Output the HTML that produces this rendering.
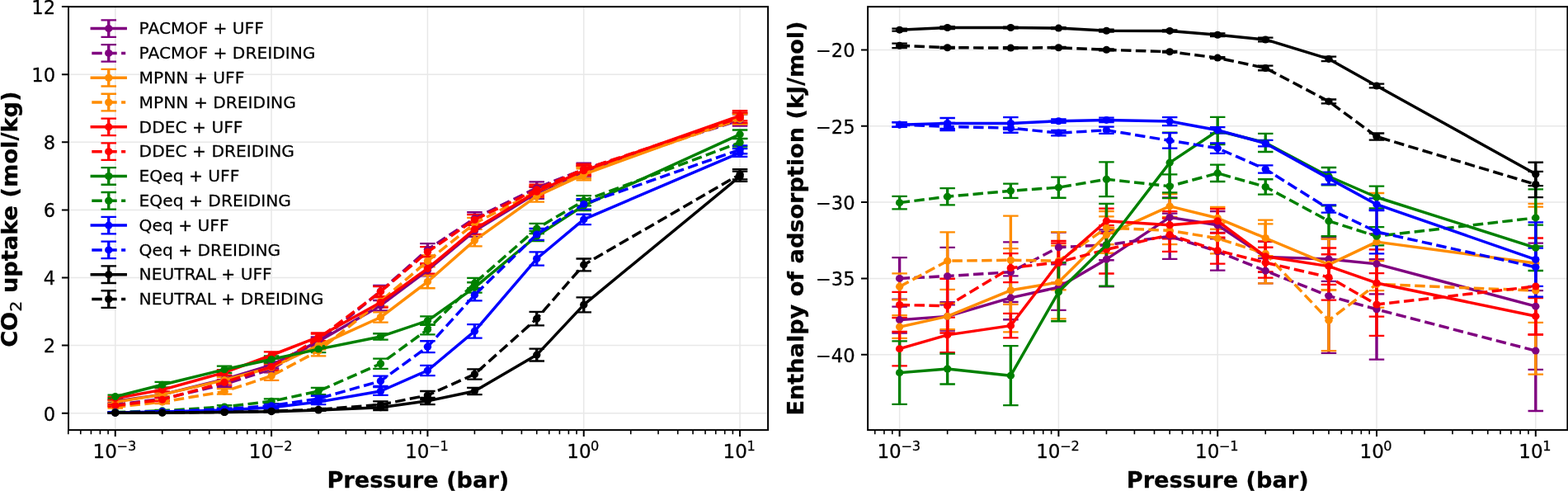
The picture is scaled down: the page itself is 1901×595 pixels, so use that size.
<!DOCTYPE html>
<html lang="en"><head><meta charset="utf-8"><title>CO2 uptake and enthalpy of adsorption</title>
<style>html,body{margin:0;padding:0;background:#fff;overflow:hidden}svg{display:block}text{font-family:"DejaVu Sans", "Liberation Sans", sans-serif;fill:#000;stroke:#000;stroke-width:0.25px;stroke-linejoin:round}</style></head><body>
<svg width="1901" height="595" viewBox="0 0 1901 595">
<rect width="1901" height="595" fill="#fff"/>
<path d="M139.75 8.15V521.1M329.08 8.15V521.1M518.41 8.15V521.1M707.74 8.15V521.1M897.07 8.15V521.1M83 500.7H931.1M83 418.6H931.1M83 336.5H931.1M83 254.4H931.1M83 172.3H931.1M83 90.2H931.1M83 8.1H931.1" stroke="#e8e8e8" stroke-width="1.5" fill="none"/>
<clipPath id="cl"><rect x="83" y="8.15" width="848.1" height="512.95"/></clipPath>
<g clip-path="url(#cl)" fill="none">
<path d="M139.75 484.69V487.97M196.74 476.07V480.18M272.09 456.37V462.93M329.08 438.3V446.51M386.07 408.75V418.6M461.42 364V376.32M518.41 320.49V334.45M575.4 272.87V286.83M650.75 226.9V240.85M707.74 201.45V215.4M897.07 136.59V150.54" stroke="#800080" stroke-width="3.4"/>
<path d="M130.5 484.69h18.5M130.5 487.97h18.5M187.49 476.07h18.5M187.49 480.18h18.5M262.84 456.37h18.5M262.84 462.93h18.5M319.83 438.3h18.5M319.83 446.51h18.5M376.82 408.75h18.5M376.82 418.6h18.5M452.17 364h18.5M452.17 376.32h18.5M509.16 320.49h18.5M509.16 334.45h18.5M566.15 272.87h18.5M566.15 286.83h18.5M641.5 226.9h18.5M641.5 240.85h18.5M698.49 201.45h18.5M698.49 215.4h18.5M887.82 136.59h18.5M887.82 150.54h18.5" stroke="#800080" stroke-width="2.3"/>
<path d="M139.75 489.21V491.67M196.74 481.41V485.51M272.09 462.52V469.09M329.08 443.23V451.44M386.07 408.75V420.24M461.42 345.94V359.9M518.41 295.04V309.82M575.4 257.27V272.05M650.75 220.33V235.11M707.74 197.75V212.53M897.07 138.64V152.6" stroke="#800080" stroke-width="3.4"/>
<path d="M130.5 489.21h18.5M130.5 491.67h18.5M187.49 481.41h18.5M187.49 485.51h18.5M262.84 462.52h18.5M262.84 469.09h18.5M319.83 443.23h18.5M319.83 451.44h18.5M376.82 408.75h18.5M376.82 420.24h18.5M452.17 345.94h18.5M452.17 359.9h18.5M509.16 295.04h18.5M509.16 309.82h18.5M566.15 257.27h18.5M566.15 272.05h18.5M641.5 220.33h18.5M641.5 235.11h18.5M698.49 197.75h18.5M698.49 212.53h18.5M887.82 138.64h18.5M887.82 152.6h18.5" stroke="#800080" stroke-width="2.3"/>
<path d="M139.75 485.51V488.8M196.74 476.07V480.18M272.09 457.19V463.75M329.08 441.18V449.39M386.07 413.67V423.53M461.42 378.37V390.69M518.41 333.63V349.23M575.4 284.37V298.32M650.75 230.59V244.55M707.74 204.32V218.28M897.07 136.59V148.9" stroke="#ff8c00" stroke-width="3.4"/>
<path d="M130.5 485.51h18.5M130.5 488.8h18.5M187.49 476.07h18.5M187.49 480.18h18.5M262.84 457.19h18.5M262.84 463.75h18.5M319.83 441.18h18.5M319.83 449.39h18.5M376.82 413.67h18.5M376.82 423.53h18.5M452.17 378.37h18.5M452.17 390.69h18.5M509.16 333.63h18.5M509.16 349.23h18.5M566.15 284.37h18.5M566.15 298.32h18.5M641.5 230.59h18.5M641.5 244.55h18.5M698.49 204.32h18.5M698.49 218.28h18.5M887.82 136.59h18.5M887.82 148.9h18.5" stroke="#ff8c00" stroke-width="2.3"/>
<path d="M139.75 492.08V494.54M196.74 485.1V489.21M272.09 471.14V477.71M329.08 450.21V460.88M386.07 419.01V431.33M461.42 359.08V371.39M518.41 309.41V323.36M575.4 263.84V277.8M650.75 224.84V238.8M707.74 202.27V216.22M897.07 138.23V150.54" stroke="#ff8c00" stroke-width="3.4"/>
<path d="M130.5 492.08h18.5M130.5 494.54h18.5M187.49 485.1h18.5M187.49 489.21h18.5M262.84 471.14h18.5M262.84 477.71h18.5M319.83 450.21h18.5M319.83 460.88h18.5M376.82 419.01h18.5M376.82 431.33h18.5M452.17 359.08h18.5M452.17 371.39h18.5M509.16 309.41h18.5M509.16 323.36h18.5M566.15 263.84h18.5M566.15 277.8h18.5M641.5 224.84h18.5M641.5 238.8h18.5M698.49 202.27h18.5M698.49 216.22h18.5M887.82 138.23h18.5M887.82 150.54h18.5" stroke="#ff8c00" stroke-width="2.3"/>
<path d="M139.75 481V484.28M196.74 470.32V474.43M272.09 448.16V454.72M329.08 426.4V434.61M386.07 403.41V413.26M461.42 360.31V372.62M518.41 319.26V331.57M575.4 271.64V283.96M650.75 226.08V238.39M707.74 200.62V212.94M897.07 134.12V146.44" stroke="#ff0000" stroke-width="3.4"/>
<path d="M130.5 481h18.5M130.5 484.28h18.5M187.49 470.32h18.5M187.49 474.43h18.5M262.84 448.16h18.5M262.84 454.72h18.5M319.83 426.4h18.5M319.83 434.61h18.5M376.82 403.41h18.5M376.82 413.26h18.5M452.17 360.31h18.5M452.17 372.62h18.5M509.16 319.26h18.5M509.16 331.57h18.5M566.15 271.64h18.5M566.15 283.96h18.5M641.5 226.08h18.5M641.5 238.39h18.5M698.49 200.62h18.5M698.49 212.94h18.5M887.82 134.12h18.5M887.82 146.44h18.5" stroke="#ff0000" stroke-width="2.3"/>
<path d="M139.75 490.44V492.9M196.74 482.23V486.33M272.09 460.06V466.63M329.08 440.36V448.57M386.07 404.64V416.14M461.42 347.17V359.49M518.41 299.14V311.46M575.4 260.15V272.46M650.75 223.61V235.93M707.74 198.98V211.3M897.07 136.59V148.9" stroke="#ff0000" stroke-width="3.4"/>
<path d="M130.5 490.44h18.5M130.5 492.9h18.5M187.49 482.23h18.5M187.49 486.33h18.5M262.84 460.06h18.5M262.84 466.63h18.5M319.83 440.36h18.5M319.83 448.57h18.5M376.82 404.64h18.5M376.82 416.14h18.5M452.17 347.17h18.5M452.17 359.49h18.5M509.16 299.14h18.5M509.16 311.46h18.5M566.15 260.15h18.5M566.15 272.46h18.5M641.5 223.61h18.5M641.5 235.93h18.5M698.49 198.98h18.5M698.49 211.3h18.5M887.82 136.59h18.5M887.82 148.9h18.5" stroke="#ff0000" stroke-width="2.3"/>
<path d="M139.75 478.53V482.64M196.74 462.93V469.5M272.09 443.64V451.85M329.08 431.33V439.54M386.07 419.01V427.22M461.42 404.23V411.62M518.41 383.3V393.97M575.4 342.25V354.56M650.75 279.85V292.17M707.74 242.91V255.22M897.07 157.52V168.2" stroke="#008000" stroke-width="3.4"/>
<path d="M130.5 478.53h18.5M130.5 482.64h18.5M187.49 462.93h18.5M187.49 469.5h18.5M262.84 443.64h18.5M262.84 451.85h18.5M319.83 431.33h18.5M319.83 439.54h18.5M376.82 419.01h18.5M376.82 427.22h18.5M452.17 404.23h18.5M452.17 411.62h18.5M509.16 383.3h18.5M509.16 393.97h18.5M566.15 342.25h18.5M566.15 354.56h18.5M641.5 279.85h18.5M641.5 292.17h18.5M698.49 242.91h18.5M698.49 255.22h18.5M887.82 157.52h18.5M887.82 168.2h18.5" stroke="#008000" stroke-width="2.3"/>
<path d="M139.75 499.06V499.88M196.74 497.01V498.65M272.09 491.26V494.54M329.08 483.46V489.21M386.07 469.91V478.12M461.42 434.61V446.92M518.41 393.15V405.46M575.4 336.91V349.23M650.75 270.82V283.13M707.74 237.16V249.47M897.07 167.78V177.64" stroke="#008000" stroke-width="3.4"/>
<path d="M130.5 499.06h18.5M130.5 499.88h18.5M187.49 497.01h18.5M187.49 498.65h18.5M262.84 491.26h18.5M262.84 494.54h18.5M319.83 483.46h18.5M319.83 489.21h18.5M376.82 469.91h18.5M376.82 478.12h18.5M452.17 434.61h18.5M452.17 446.92h18.5M509.16 393.15h18.5M509.16 405.46h18.5M566.15 336.91h18.5M566.15 349.23h18.5M641.5 270.82h18.5M641.5 283.13h18.5M698.49 237.16h18.5M698.49 249.47h18.5M887.82 167.78h18.5M887.82 177.64h18.5" stroke="#008000" stroke-width="2.3"/>
<path d="M139.75 499.47V500.29M196.74 498.65V499.47M272.09 496.18V497.83M329.08 492.08V495.36M386.07 484.28V490.03M461.42 469.09V478.94M518.41 442.82V455.13M575.4 393.15V409.57M650.75 305.3V321.72M707.74 259.74V272.05M897.07 180.1V189.95" stroke="#0000ff" stroke-width="3.4"/>
<path d="M130.5 499.47h18.5M130.5 500.29h18.5M187.49 498.65h18.5M187.49 499.47h18.5M262.84 496.18h18.5M262.84 497.83h18.5M319.83 492.08h18.5M319.83 495.36h18.5M376.82 484.28h18.5M376.82 490.03h18.5M452.17 469.09h18.5M452.17 478.94h18.5M509.16 442.82h18.5M509.16 455.13h18.5M566.15 393.15h18.5M566.15 409.57h18.5M641.5 305.3h18.5M641.5 321.72h18.5M698.49 259.74h18.5M698.49 272.05h18.5M887.82 180.1h18.5M887.82 189.95h18.5" stroke="#0000ff" stroke-width="2.3"/>
<path d="M139.75 499.47V500.29M196.74 498.24V499.06M272.09 494.54V497.01M329.08 489.62V493.72M386.07 479.76V486.33M461.42 455.55V467.86M518.41 413.26V427.22M575.4 350.46V364.41M650.75 276.98V290.93M707.74 241.26V253.58M897.07 176.4V186.26" stroke="#0000ff" stroke-width="3.4"/>
<path d="M130.5 499.47h18.5M130.5 500.29h18.5M187.49 498.24h18.5M187.49 499.06h18.5M262.84 494.54h18.5M262.84 497.01h18.5M319.83 489.62h18.5M319.83 493.72h18.5M376.82 479.76h18.5M376.82 486.33h18.5M452.17 455.55h18.5M452.17 467.86h18.5M509.16 413.26h18.5M509.16 427.22h18.5M566.15 350.46h18.5M566.15 364.41h18.5M641.5 276.98h18.5M641.5 290.93h18.5M698.49 241.26h18.5M698.49 253.58h18.5M887.82 176.4h18.5M887.82 186.26h18.5" stroke="#0000ff" stroke-width="2.3"/>
<path d="M139.75 500.08V500.49M196.74 500.08V500.49M272.09 499.06V499.88M329.08 498.24V499.06M386.07 496.18V497.83M461.42 490.44V497.01M518.41 481.82V490.03M575.4 469.91V478.12M650.75 422.7V437.48M707.74 360.31V378.37M897.07 207.6V219.92" stroke="#000000" stroke-width="3.4"/>
<path d="M130.5 500.08h18.5M130.5 500.49h18.5M187.49 500.08h18.5M187.49 500.49h18.5M262.84 499.06h18.5M262.84 499.88h18.5M319.83 498.24h18.5M319.83 499.06h18.5M376.82 496.18h18.5M376.82 497.83h18.5M452.17 490.44h18.5M452.17 497.01h18.5M509.16 481.82h18.5M509.16 490.03h18.5M566.15 469.91h18.5M566.15 478.12h18.5M641.5 422.7h18.5M641.5 437.48h18.5M698.49 360.31h18.5M698.49 378.37h18.5M887.82 207.6h18.5M887.82 219.92h18.5" stroke="#000000" stroke-width="2.3"/>
<path d="M139.75 500.08V500.49M196.74 499.67V500.08M272.09 499.06V499.88M329.08 497.42V499.06M386.07 494.95V497.42M461.42 486.33V494.54M518.41 474.02V483.87M575.4 447.33V459.65M650.75 377.96V394.38M707.74 313.51V328.29M897.07 205.14V217.46" stroke="#000000" stroke-width="3.4"/>
<path d="M130.5 500.08h18.5M130.5 500.49h18.5M187.49 499.67h18.5M187.49 500.08h18.5M262.84 499.06h18.5M262.84 499.88h18.5M319.83 497.42h18.5M319.83 499.06h18.5M376.82 494.95h18.5M376.82 497.42h18.5M452.17 486.33h18.5M452.17 494.54h18.5M509.16 474.02h18.5M509.16 483.87h18.5M566.15 447.33h18.5M566.15 459.65h18.5M641.5 377.96h18.5M641.5 394.38h18.5M698.49 313.51h18.5M698.49 328.29h18.5M887.82 205.14h18.5M887.82 217.46h18.5" stroke="#000000" stroke-width="2.3"/>
<polyline points="139.75,486.33 196.74,478.12 272.09,459.65 329.08,442.41 386.07,413.67 461.42,370.16 518.41,327.47 575.4,279.85 650.75,233.88 707.74,208.42 897.07,143.57" stroke="#800080" stroke-width="3.47" stroke-linejoin="round" stroke-linecap="square"/>
<g fill="#800080"><ellipse cx="139.75" cy="486.33" rx="4.7" ry="4.5"/><ellipse cx="196.74" cy="478.12" rx="4.7" ry="4.5"/><ellipse cx="272.09" cy="459.65" rx="4.7" ry="4.5"/><ellipse cx="329.08" cy="442.41" rx="4.7" ry="4.5"/><ellipse cx="386.07" cy="413.67" rx="4.7" ry="4.5"/><ellipse cx="461.42" cy="370.16" rx="4.7" ry="4.5"/><ellipse cx="518.41" cy="327.47" rx="4.7" ry="4.5"/><ellipse cx="575.4" cy="279.85" rx="4.7" ry="4.5"/><ellipse cx="650.75" cy="233.88" rx="4.7" ry="4.5"/><ellipse cx="707.74" cy="208.42" rx="4.7" ry="4.5"/><ellipse cx="897.07" cy="143.57" rx="4.7" ry="4.5"/></g>
<polyline points="139.75,490.44 196.74,483.46 272.09,465.81 329.08,447.33 386.07,414.5 461.42,352.92 518.41,302.43 575.4,264.66 650.75,227.72 707.74,205.14 897.07,145.62" stroke="#800080" stroke-width="3.47" stroke-linejoin="round" stroke-dasharray="12.5 5.4"/>
<g fill="#800080"><ellipse cx="139.75" cy="490.44" rx="4.7" ry="4.5"/><ellipse cx="196.74" cy="483.46" rx="4.7" ry="4.5"/><ellipse cx="272.09" cy="465.81" rx="4.7" ry="4.5"/><ellipse cx="329.08" cy="447.33" rx="4.7" ry="4.5"/><ellipse cx="386.07" cy="414.5" rx="4.7" ry="4.5"/><ellipse cx="461.42" cy="352.92" rx="4.7" ry="4.5"/><ellipse cx="518.41" cy="302.43" rx="4.7" ry="4.5"/><ellipse cx="575.4" cy="264.66" rx="4.7" ry="4.5"/><ellipse cx="650.75" cy="227.72" rx="4.7" ry="4.5"/><ellipse cx="707.74" cy="205.14" rx="4.7" ry="4.5"/><ellipse cx="897.07" cy="145.62" rx="4.7" ry="4.5"/></g>
<polyline points="139.75,487.15 196.74,478.12 272.09,460.47 329.08,445.28 386.07,418.6 461.42,384.53 518.41,341.43 575.4,291.35 650.75,237.57 707.74,211.3 897.07,142.74" stroke="#ff8c00" stroke-width="3.47" stroke-linejoin="round" stroke-linecap="square"/>
<g fill="#ff8c00"><ellipse cx="139.75" cy="487.15" rx="4.7" ry="4.5"/><ellipse cx="196.74" cy="478.12" rx="4.7" ry="4.5"/><ellipse cx="272.09" cy="460.47" rx="4.7" ry="4.5"/><ellipse cx="329.08" cy="445.28" rx="4.7" ry="4.5"/><ellipse cx="386.07" cy="418.6" rx="4.7" ry="4.5"/><ellipse cx="461.42" cy="384.53" rx="4.7" ry="4.5"/><ellipse cx="518.41" cy="341.43" rx="4.7" ry="4.5"/><ellipse cx="575.4" cy="291.35" rx="4.7" ry="4.5"/><ellipse cx="650.75" cy="237.57" rx="4.7" ry="4.5"/><ellipse cx="707.74" cy="211.3" rx="4.7" ry="4.5"/><ellipse cx="897.07" cy="142.74" rx="4.7" ry="4.5"/></g>
<polyline points="139.75,493.31 196.74,487.15 272.09,474.43 329.08,455.54 386.07,425.17 461.42,365.24 518.41,316.39 575.4,270.82 650.75,231.82 707.74,209.25 897.07,144.39" stroke="#ff8c00" stroke-width="3.47" stroke-linejoin="round" stroke-dasharray="12.5 5.4"/>
<g fill="#ff8c00"><ellipse cx="139.75" cy="493.31" rx="4.7" ry="4.5"/><ellipse cx="196.74" cy="487.15" rx="4.7" ry="4.5"/><ellipse cx="272.09" cy="474.43" rx="4.7" ry="4.5"/><ellipse cx="329.08" cy="455.54" rx="4.7" ry="4.5"/><ellipse cx="386.07" cy="425.17" rx="4.7" ry="4.5"/><ellipse cx="461.42" cy="365.24" rx="4.7" ry="4.5"/><ellipse cx="518.41" cy="316.39" rx="4.7" ry="4.5"/><ellipse cx="575.4" cy="270.82" rx="4.7" ry="4.5"/><ellipse cx="650.75" cy="231.82" rx="4.7" ry="4.5"/><ellipse cx="707.74" cy="209.25" rx="4.7" ry="4.5"/><ellipse cx="897.07" cy="144.39" rx="4.7" ry="4.5"/></g>
<polyline points="139.75,482.64 196.74,472.38 272.09,451.44 329.08,430.5 386.07,408.34 461.42,366.47 518.41,325.42 575.4,277.8 650.75,232.23 707.74,206.78 897.07,140.28" stroke="#ff0000" stroke-width="3.47" stroke-linejoin="round" stroke-linecap="square"/>
<g fill="#ff0000"><ellipse cx="139.75" cy="482.64" rx="4.7" ry="4.5"/><ellipse cx="196.74" cy="472.38" rx="4.7" ry="4.5"/><ellipse cx="272.09" cy="451.44" rx="4.7" ry="4.5"/><ellipse cx="329.08" cy="430.5" rx="4.7" ry="4.5"/><ellipse cx="386.07" cy="408.34" rx="4.7" ry="4.5"/><ellipse cx="461.42" cy="366.47" rx="4.7" ry="4.5"/><ellipse cx="518.41" cy="325.42" rx="4.7" ry="4.5"/><ellipse cx="575.4" cy="277.8" rx="4.7" ry="4.5"/><ellipse cx="650.75" cy="232.23" rx="4.7" ry="4.5"/><ellipse cx="707.74" cy="206.78" rx="4.7" ry="4.5"/><ellipse cx="897.07" cy="140.28" rx="4.7" ry="4.5"/></g>
<polyline points="139.75,491.67 196.74,484.28 272.09,463.34 329.08,444.46 386.07,410.39 461.42,353.33 518.41,305.3 575.4,266.3 650.75,229.77 707.74,205.14 897.07,142.74" stroke="#ff0000" stroke-width="3.47" stroke-linejoin="round" stroke-dasharray="12.5 5.4"/>
<g fill="#ff0000"><ellipse cx="139.75" cy="491.67" rx="4.7" ry="4.5"/><ellipse cx="196.74" cy="484.28" rx="4.7" ry="4.5"/><ellipse cx="272.09" cy="463.34" rx="4.7" ry="4.5"/><ellipse cx="329.08" cy="444.46" rx="4.7" ry="4.5"/><ellipse cx="386.07" cy="410.39" rx="4.7" ry="4.5"/><ellipse cx="461.42" cy="353.33" rx="4.7" ry="4.5"/><ellipse cx="518.41" cy="305.3" rx="4.7" ry="4.5"/><ellipse cx="575.4" cy="266.3" rx="4.7" ry="4.5"/><ellipse cx="650.75" cy="229.77" rx="4.7" ry="4.5"/><ellipse cx="707.74" cy="205.14" rx="4.7" ry="4.5"/><ellipse cx="897.07" cy="142.74" rx="4.7" ry="4.5"/></g>
<polyline points="139.75,480.59 196.74,466.22 272.09,447.75 329.08,435.43 386.07,423.12 461.42,407.93 518.41,388.63 575.4,348.4 650.75,286.01 707.74,249.06 897.07,162.86" stroke="#008000" stroke-width="3.47" stroke-linejoin="round" stroke-linecap="square"/>
<g fill="#008000"><ellipse cx="139.75" cy="480.59" rx="4.7" ry="4.5"/><ellipse cx="196.74" cy="466.22" rx="4.7" ry="4.5"/><ellipse cx="272.09" cy="447.75" rx="4.7" ry="4.5"/><ellipse cx="329.08" cy="435.43" rx="4.7" ry="4.5"/><ellipse cx="386.07" cy="423.12" rx="4.7" ry="4.5"/><ellipse cx="461.42" cy="407.93" rx="4.7" ry="4.5"/><ellipse cx="518.41" cy="388.63" rx="4.7" ry="4.5"/><ellipse cx="575.4" cy="348.4" rx="4.7" ry="4.5"/><ellipse cx="650.75" cy="286.01" rx="4.7" ry="4.5"/><ellipse cx="707.74" cy="249.06" rx="4.7" ry="4.5"/><ellipse cx="897.07" cy="162.86" rx="4.7" ry="4.5"/></g>
<polyline points="139.75,499.47 196.74,497.83 272.09,492.9 329.08,486.33 386.07,474.02 461.42,440.77 518.41,399.31 575.4,343.07 650.75,276.98 707.74,243.32 897.07,172.71" stroke="#008000" stroke-width="3.47" stroke-linejoin="round" stroke-dasharray="12.5 5.4"/>
<g fill="#008000"><ellipse cx="139.75" cy="499.47" rx="4.7" ry="4.5"/><ellipse cx="196.74" cy="497.83" rx="4.7" ry="4.5"/><ellipse cx="272.09" cy="492.9" rx="4.7" ry="4.5"/><ellipse cx="329.08" cy="486.33" rx="4.7" ry="4.5"/><ellipse cx="386.07" cy="474.02" rx="4.7" ry="4.5"/><ellipse cx="461.42" cy="440.77" rx="4.7" ry="4.5"/><ellipse cx="518.41" cy="399.31" rx="4.7" ry="4.5"/><ellipse cx="575.4" cy="343.07" rx="4.7" ry="4.5"/><ellipse cx="650.75" cy="276.98" rx="4.7" ry="4.5"/><ellipse cx="707.74" cy="243.32" rx="4.7" ry="4.5"/><ellipse cx="897.07" cy="172.71" rx="4.7" ry="4.5"/></g>
<polyline points="139.75,499.88 196.74,499.06 272.09,497.01 329.08,493.72 386.07,487.15 461.42,474.02 518.41,448.98 575.4,401.36 650.75,313.51 707.74,265.89 897.07,185.03" stroke="#0000ff" stroke-width="3.47" stroke-linejoin="round" stroke-linecap="square"/>
<g fill="#0000ff"><ellipse cx="139.75" cy="499.88" rx="4.7" ry="4.5"/><ellipse cx="196.74" cy="499.06" rx="4.7" ry="4.5"/><ellipse cx="272.09" cy="497.01" rx="4.7" ry="4.5"/><ellipse cx="329.08" cy="493.72" rx="4.7" ry="4.5"/><ellipse cx="386.07" cy="487.15" rx="4.7" ry="4.5"/><ellipse cx="461.42" cy="474.02" rx="4.7" ry="4.5"/><ellipse cx="518.41" cy="448.98" rx="4.7" ry="4.5"/><ellipse cx="575.4" cy="401.36" rx="4.7" ry="4.5"/><ellipse cx="650.75" cy="313.51" rx="4.7" ry="4.5"/><ellipse cx="707.74" cy="265.89" rx="4.7" ry="4.5"/><ellipse cx="897.07" cy="185.03" rx="4.7" ry="4.5"/></g>
<polyline points="139.75,499.88 196.74,498.65 272.09,495.77 329.08,491.67 386.07,483.05 461.42,461.7 518.41,420.24 575.4,357.44 650.75,283.96 707.74,247.42 897.07,181.33" stroke="#0000ff" stroke-width="3.47" stroke-linejoin="round" stroke-dasharray="12.5 5.4"/>
<g fill="#0000ff"><ellipse cx="139.75" cy="499.88" rx="4.7" ry="4.5"/><ellipse cx="196.74" cy="498.65" rx="4.7" ry="4.5"/><ellipse cx="272.09" cy="495.77" rx="4.7" ry="4.5"/><ellipse cx="329.08" cy="491.67" rx="4.7" ry="4.5"/><ellipse cx="386.07" cy="483.05" rx="4.7" ry="4.5"/><ellipse cx="461.42" cy="461.7" rx="4.7" ry="4.5"/><ellipse cx="518.41" cy="420.24" rx="4.7" ry="4.5"/><ellipse cx="575.4" cy="357.44" rx="4.7" ry="4.5"/><ellipse cx="650.75" cy="283.96" rx="4.7" ry="4.5"/><ellipse cx="707.74" cy="247.42" rx="4.7" ry="4.5"/><ellipse cx="897.07" cy="181.33" rx="4.7" ry="4.5"/></g>
<polyline points="139.75,500.29 196.74,500.29 272.09,499.47 329.08,498.65 386.07,497.01 461.42,493.72 518.41,485.92 575.4,474.02 650.75,430.09 707.74,369.34 897.07,213.76" stroke="#000000" stroke-width="3.47" stroke-linejoin="round" stroke-linecap="square"/>
<g fill="#000000"><ellipse cx="139.75" cy="500.29" rx="4.7" ry="4.5"/><ellipse cx="196.74" cy="500.29" rx="4.7" ry="4.5"/><ellipse cx="272.09" cy="499.47" rx="4.7" ry="4.5"/><ellipse cx="329.08" cy="498.65" rx="4.7" ry="4.5"/><ellipse cx="386.07" cy="497.01" rx="4.7" ry="4.5"/><ellipse cx="461.42" cy="493.72" rx="4.7" ry="4.5"/><ellipse cx="518.41" cy="485.92" rx="4.7" ry="4.5"/><ellipse cx="575.4" cy="474.02" rx="4.7" ry="4.5"/><ellipse cx="650.75" cy="430.09" rx="4.7" ry="4.5"/><ellipse cx="707.74" cy="369.34" rx="4.7" ry="4.5"/><ellipse cx="897.07" cy="213.76" rx="4.7" ry="4.5"/></g>
<polyline points="139.75,500.29 196.74,499.88 272.09,499.47 329.08,498.24 386.07,496.18 461.42,490.44 518.41,478.94 575.4,453.49 650.75,386.17 707.74,320.9 897.07,211.3" stroke="#000000" stroke-width="3.47" stroke-linejoin="round" stroke-dasharray="12.5 5.4"/>
<g fill="#000000"><ellipse cx="139.75" cy="500.29" rx="4.7" ry="4.5"/><ellipse cx="196.74" cy="499.88" rx="4.7" ry="4.5"/><ellipse cx="272.09" cy="499.47" rx="4.7" ry="4.5"/><ellipse cx="329.08" cy="498.24" rx="4.7" ry="4.5"/><ellipse cx="386.07" cy="496.18" rx="4.7" ry="4.5"/><ellipse cx="461.42" cy="490.44" rx="4.7" ry="4.5"/><ellipse cx="518.41" cy="478.94" rx="4.7" ry="4.5"/><ellipse cx="575.4" cy="453.49" rx="4.7" ry="4.5"/><ellipse cx="650.75" cy="386.17" rx="4.7" ry="4.5"/><ellipse cx="707.74" cy="320.9" rx="4.7" ry="4.5"/><ellipse cx="897.07" cy="211.3" rx="4.7" ry="4.5"/></g>
</g>
<path d="M82.76 521.1v5.1M97.75 521.1v5.1M110.42 521.1v5.1M121.4 521.1v5.1M131.09 521.1v5.1M196.74 521.1v5.1M230.08 521.1v5.1M253.74 521.1v5.1M272.09 521.1v5.1M287.08 521.1v5.1M299.75 521.1v5.1M310.73 521.1v5.1M320.42 521.1v5.1M386.07 521.1v5.1M419.41 521.1v5.1M443.07 521.1v5.1M461.42 521.1v5.1M476.41 521.1v5.1M489.08 521.1v5.1M500.06 521.1v5.1M509.75 521.1v5.1M575.4 521.1v5.1M608.74 521.1v5.1M632.4 521.1v5.1M650.75 521.1v5.1M665.74 521.1v5.1M678.41 521.1v5.1M689.39 521.1v5.1M699.08 521.1v5.1M764.73 521.1v5.1M798.07 521.1v5.1M821.73 521.1v5.1M840.08 521.1v5.1M855.07 521.1v5.1M867.74 521.1v5.1M878.72 521.1v5.1M888.41 521.1v5.1" stroke="#000" stroke-width="1.6" fill="none"/>
<path d="M139.75 521.1v7.9M329.08 521.1v7.9M518.41 521.1v7.9M707.74 521.1v7.9M897.07 521.1v7.9M83 500.7h-8.1M83 418.6h-8.1M83 336.5h-8.1M83 254.4h-8.1M83 172.3h-8.1M83 90.2h-8.1M83 8.1h-8.1" stroke="#000" stroke-width="2.0" fill="none"/>
<rect x="83" y="8.15" width="848.1" height="512.95" fill="none" stroke="#000" stroke-width="2.0"/>
<text transform="translate(67.15,509.55) scale(1.0120,1)" text-anchor="end" font-size="22.4px">0</text>
<text transform="translate(67.15,427.45) scale(1.0120,1)" text-anchor="end" font-size="22.4px">2</text>
<text transform="translate(67.15,345.35) scale(1.0120,1)" text-anchor="end" font-size="22.4px">4</text>
<text transform="translate(67.15,263.25) scale(1.0120,1)" text-anchor="end" font-size="22.4px">6</text>
<text transform="translate(67.15,181.15) scale(1.0120,1)" text-anchor="end" font-size="22.4px">8</text>
<text transform="translate(67.15,99.05) scale(1.0120,1)" text-anchor="end" font-size="22.4px">10</text>
<text transform="translate(67.15,16.95) scale(1.0120,1)" text-anchor="end" font-size="22.4px">12</text>
<text transform="translate(138.85,554.6) scale(1.0300,1)" font-size="22.4px"><tspan x="-25.56">10</tspan><tspan x="2.44" dy="-8.4" font-size="15.68px">−3</tspan></text>
<text transform="translate(328.18,554.6) scale(1.0300,1)" font-size="22.4px"><tspan x="-25.56">10</tspan><tspan x="2.44" dy="-8.4" font-size="15.68px">−2</tspan></text>
<text transform="translate(517.51,554.6) scale(1.0300,1)" font-size="22.4px"><tspan x="-25.56">10</tspan><tspan x="2.44" dy="-8.4" font-size="15.68px">−1</tspan></text>
<text transform="translate(706.84,554.6) scale(1.0300,1)" font-size="22.4px"><tspan x="-18.99">10</tspan><tspan x="9.01" dy="-8.4" font-size="15.68px">0</tspan></text>
<text transform="translate(896.17,554.6) scale(1.0300,1)" font-size="22.4px"><tspan x="-18.99">10</tspan><tspan x="9.01" dy="-8.4" font-size="15.68px">1</tspan></text>
<path d="M1090.6 8.15V521.1M1283.4 8.15V521.1M1476.2 8.15V521.1M1669 8.15V521.1M1861.8 8.15V521.1M1052.1 429.7H1900.4M1052.1 337.4H1900.4M1052.1 245.1H1900.4M1052.1 152.8H1900.4M1052.1 60.5H1900.4" stroke="#e8e8e8" stroke-width="1.5" fill="none"/>
<clipPath id="cr"><rect x="1052.1" y="8.15" width="848.3" height="512.95"/></clipPath>
<g clip-path="url(#cr)" fill="none">
<path d="M1090.6 371.55V403.67M1148.64 366.2V400.53M1225.36 334.45V387.24M1283.4 320.42V375.8M1341.44 280.91V347.37M1418.16 239.38V287.37M1476.2 256.18V289.4M1534.24 292.91V329.83M1610.96 287V340.91M1669 283.31V356.41M1861.8 294.57V447.79" stroke="#800080" stroke-width="3.4"/>
<path d="M1081.35 371.55h18.5M1081.35 403.67h18.5M1139.39 366.2h18.5M1139.39 400.53h18.5M1216.11 334.45h18.5M1216.11 387.24h18.5M1274.15 320.42h18.5M1274.15 375.8h18.5M1332.19 280.91h18.5M1332.19 347.37h18.5M1408.91 239.38h18.5M1408.91 287.37h18.5M1466.95 256.18h18.5M1466.95 289.4h18.5M1524.99 292.91h18.5M1524.99 329.83h18.5M1601.71 287h18.5M1601.71 340.91h18.5M1659.75 283.31h18.5M1659.75 356.41h18.5M1852.55 294.57h18.5M1852.55 447.79h18.5" stroke="#800080" stroke-width="2.3"/>
<path d="M1090.6 312.11V362.69M1148.64 299.93V369.34M1225.36 293.28V366.01M1283.4 281.65V317.83M1341.44 278.33V315.25M1418.16 258.58V313.96M1476.2 281.84V327.62M1534.24 313.03V343.31M1610.96 289.4V427.85M1669 314.14V435.61M1861.8 352.17V498" stroke="#800080" stroke-width="3.4"/>
<path d="M1081.35 312.11h18.5M1081.35 362.69h18.5M1139.39 299.93h18.5M1139.39 369.34h18.5M1216.11 293.28h18.5M1216.11 366.01h18.5M1274.15 281.65h18.5M1274.15 317.83h18.5M1332.19 278.33h18.5M1332.19 315.25h18.5M1408.91 258.58h18.5M1408.91 313.96h18.5M1466.95 281.84h18.5M1466.95 327.62h18.5M1524.99 313.03h18.5M1524.99 343.31h18.5M1601.71 289.4h18.5M1601.71 427.85h18.5M1659.75 314.14h18.5M1659.75 435.61h18.5M1852.55 352.17h18.5M1852.55 498h18.5" stroke="#800080" stroke-width="2.3"/>
<path d="M1090.6 382.26V409.95M1148.64 367.67V399.06M1225.36 301.22V402.38M1283.4 297.71V386.32M1341.44 262.45V306.76M1418.16 235.13V264.67M1476.2 250.82V277.77M1534.24 266.7V310.26M1610.96 289.59V351.61M1669 234.02V352.17M1861.8 246.95V390.93" stroke="#ff8c00" stroke-width="3.4"/>
<path d="M1081.35 382.26h18.5M1081.35 409.95h18.5M1139.39 367.67h18.5M1139.39 399.06h18.5M1216.11 301.22h18.5M1216.11 402.38h18.5M1274.15 297.71h18.5M1274.15 386.32h18.5M1332.19 262.45h18.5M1332.19 306.76h18.5M1408.91 235.13h18.5M1408.91 264.67h18.5M1466.95 250.82h18.5M1466.95 277.77h18.5M1524.99 266.7h18.5M1524.99 310.26h18.5M1601.71 289.59h18.5M1601.71 351.61h18.5M1659.75 234.02h18.5M1659.75 352.17h18.5M1852.55 246.95h18.5M1852.55 390.93h18.5" stroke="#ff8c00" stroke-width="2.3"/>
<path d="M1090.6 331.31V363.43M1148.64 281.47V350.88M1225.36 261.71V368.78M1283.4 281.1V351.25M1341.44 255.99V296.23M1418.16 262.82V296.05M1476.2 270.39V307.31M1534.24 271.31V343.31M1610.96 351.25V425.09M1669 316.17V372.66M1861.8 250.64V453.7" stroke="#ff8c00" stroke-width="3.4"/>
<path d="M1081.35 331.31h18.5M1081.35 363.43h18.5M1139.39 281.47h18.5M1139.39 350.88h18.5M1216.11 261.71h18.5M1216.11 368.78h18.5M1274.15 281.1h18.5M1274.15 351.25h18.5M1332.19 255.99h18.5M1332.19 296.23h18.5M1408.91 262.82h18.5M1408.91 296.05h18.5M1466.95 270.39h18.5M1466.95 307.31h18.5M1524.99 271.31h18.5M1524.99 343.31h18.5M1601.71 351.25h18.5M1601.71 425.09h18.5M1659.75 316.17h18.5M1659.75 372.66h18.5M1852.55 250.64h18.5M1852.55 453.7h18.5" stroke="#ff8c00" stroke-width="2.3"/>
<path d="M1090.6 402.01V443.36M1148.64 384.66V427.12M1225.36 379.86V409.39M1283.4 294.57V342.57M1341.44 252.67V282.94M1418.16 256.18V289.4M1476.2 253.04V282.57M1534.24 292.36V329.28M1610.96 300.48V344.78M1669 302.33V383.55M1861.8 361.03V405.33" stroke="#ff0000" stroke-width="3.4"/>
<path d="M1081.35 402.01h18.5M1081.35 443.36h18.5M1139.39 384.66h18.5M1139.39 427.12h18.5M1216.11 379.86h18.5M1216.11 409.39h18.5M1274.15 294.57h18.5M1274.15 342.57h18.5M1332.19 252.67h18.5M1332.19 282.94h18.5M1408.91 256.18h18.5M1408.91 289.4h18.5M1466.95 253.04h18.5M1466.95 282.57h18.5M1524.99 292.36h18.5M1524.99 329.28h18.5M1601.71 300.48h18.5M1601.71 344.78h18.5M1659.75 302.33h18.5M1659.75 383.55h18.5M1852.55 361.03h18.5M1852.55 405.33h18.5" stroke="#ff0000" stroke-width="2.3"/>
<path d="M1090.6 353.83V385.21M1148.64 337.77V403.49M1225.36 307.13V342.2M1283.4 291.99V343.68M1341.44 273.16V331.49M1418.16 264.3V304.91M1476.2 287.56V319.68M1534.24 299.74V336.66M1610.96 308.23V363.61M1669 331.12V406.81M1861.8 288.48V405.52" stroke="#ff0000" stroke-width="3.4"/>
<path d="M1081.35 353.83h18.5M1081.35 385.21h18.5M1139.39 337.77h18.5M1139.39 403.49h18.5M1216.11 307.13h18.5M1216.11 342.2h18.5M1274.15 291.99h18.5M1274.15 343.68h18.5M1332.19 273.16h18.5M1332.19 331.49h18.5M1408.91 264.3h18.5M1408.91 304.91h18.5M1466.95 287.56h18.5M1466.95 319.68h18.5M1524.99 299.74h18.5M1524.99 336.66h18.5M1601.71 308.23h18.5M1601.71 363.61h18.5M1659.75 331.12h18.5M1659.75 406.81h18.5M1852.55 288.48h18.5M1852.55 405.52h18.5" stroke="#ff0000" stroke-width="2.3"/>
<path d="M1090.6 413.46V489.88M1148.64 428.59V465.51M1225.36 419.18V491.17M1283.4 318.39V389.27M1341.44 246.95V346.63M1418.16 160.74V233.47M1476.2 141.91V175.14M1534.24 161.85V184M1610.96 203.01V224.42M1669 225.53V252.48M1861.8 272.61V327.99" stroke="#008000" stroke-width="3.4"/>
<path d="M1081.35 413.46h18.5M1081.35 489.88h18.5M1139.39 428.59h18.5M1139.39 465.51h18.5M1216.11 419.18h18.5M1216.11 491.17h18.5M1274.15 318.39h18.5M1274.15 389.27h18.5M1332.19 246.95h18.5M1332.19 346.63h18.5M1408.91 160.74h18.5M1408.91 233.47h18.5M1466.95 141.91h18.5M1466.95 175.14h18.5M1524.99 161.85h18.5M1524.99 184h18.5M1601.71 203.01h18.5M1601.71 224.42h18.5M1659.75 225.53h18.5M1659.75 252.48h18.5M1852.55 272.61h18.5M1852.55 327.99h18.5" stroke="#008000" stroke-width="2.3"/>
<path d="M1090.6 237.9V253.41M1148.64 228.12V248.42M1225.36 222.58V239.93M1283.4 214.64V239.75M1341.44 196.37V238.09M1418.16 211.32V240.12M1476.2 199.69V219.99M1534.24 217.23V235.69M1610.96 249.35V286.27M1669 275.19V297.34M1861.8 229.41V298.45" stroke="#008000" stroke-width="3.4"/>
<path d="M1081.35 237.9h18.5M1081.35 253.41h18.5M1139.39 228.12h18.5M1139.39 248.42h18.5M1216.11 222.58h18.5M1216.11 239.93h18.5M1274.15 214.64h18.5M1274.15 239.75h18.5M1332.19 196.37h18.5M1332.19 238.09h18.5M1408.91 211.32h18.5M1408.91 240.12h18.5M1466.95 199.69h18.5M1466.95 219.99h18.5M1524.99 217.23h18.5M1524.99 235.69h18.5M1601.71 249.35h18.5M1601.71 286.27h18.5M1659.75 275.19h18.5M1659.75 297.34h18.5M1852.55 229.41h18.5M1852.55 298.45h18.5" stroke="#008000" stroke-width="2.3"/>
<path d="M1090.6 148.37V153.91M1148.64 143.02V155.94M1225.36 142.09V156.86M1283.4 144.49V148.92M1341.44 142.65V148.19M1418.16 142.09V152.06M1476.2 154.09V161.48M1534.24 169.97V177.35M1610.96 208.73V223.5M1669 240.3V255.07M1861.8 269.47V359.55" stroke="#0000ff" stroke-width="3.4"/>
<path d="M1081.35 148.37h18.5M1081.35 153.91h18.5M1139.39 143.02h18.5M1139.39 155.94h18.5M1216.11 142.09h18.5M1216.11 156.86h18.5M1274.15 144.49h18.5M1274.15 148.92h18.5M1332.19 142.65h18.5M1332.19 148.19h18.5M1408.91 142.09h18.5M1408.91 152.06h18.5M1466.95 154.09h18.5M1466.95 161.48h18.5M1524.99 169.97h18.5M1524.99 177.35h18.5M1601.71 208.73h18.5M1601.71 223.5h18.5M1659.75 240.3h18.5M1659.75 255.07h18.5M1852.55 269.47h18.5M1852.55 359.55h18.5" stroke="#0000ff" stroke-width="2.3"/>
<path d="M1090.6 148.19V153.72M1148.64 148.92V158.15M1225.36 149.66V160.74M1283.4 157.78V164.43M1341.44 153.72V161.85M1418.16 161.11V179.57M1476.2 173.29V185.84M1534.24 200.43V209.66M1610.96 248.42V257.65M1669 254.51V307.31M1861.8 300.66V346.81" stroke="#0000ff" stroke-width="3.4"/>
<path d="M1081.35 148.19h18.5M1081.35 153.72h18.5M1139.39 148.92h18.5M1139.39 158.15h18.5M1216.11 149.66h18.5M1216.11 160.74h18.5M1274.15 157.78h18.5M1274.15 164.43h18.5M1332.19 153.72h18.5M1332.19 161.85h18.5M1408.91 161.11h18.5M1408.91 179.57h18.5M1466.95 173.29h18.5M1466.95 185.84h18.5M1524.99 200.43h18.5M1524.99 209.66h18.5M1601.71 248.42h18.5M1601.71 257.65h18.5M1659.75 254.51h18.5M1659.75 307.31h18.5M1852.55 300.66h18.5M1852.55 346.81h18.5" stroke="#0000ff" stroke-width="2.3"/>
<path d="M1090.6 34.66V37.61M1148.64 32.07V35.03M1225.36 32.63V34.47M1283.4 33.18V35.03M1341.44 35.76V38.72M1418.16 36.5V38.35M1476.2 40.38V44.07M1534.24 45.55V50.35M1610.96 68.62V74.16M1669 101.67V106.47M1861.8 196.73V225.16" stroke="#000000" stroke-width="3.4"/>
<path d="M1081.35 34.66h18.5M1081.35 37.61h18.5M1139.39 32.07h18.5M1139.39 35.03h18.5M1216.11 32.63h18.5M1216.11 34.47h18.5M1274.15 33.18h18.5M1274.15 35.03h18.5M1332.19 35.76h18.5M1332.19 38.72h18.5M1408.91 36.5h18.5M1408.91 38.35h18.5M1466.95 40.38h18.5M1466.95 44.07h18.5M1524.99 45.55h18.5M1524.99 50.35h18.5M1601.71 68.62h18.5M1601.71 74.16h18.5M1659.75 101.67h18.5M1659.75 106.47h18.5M1852.55 196.73h18.5M1852.55 225.16h18.5" stroke="#000000" stroke-width="2.3"/>
<path d="M1090.6 52.56V58.1M1148.64 56.81V58.65M1225.36 57.18V59.02M1283.4 56.81V58.65M1341.44 59.39V61.24M1418.16 61.79V63.64M1476.2 69.18V71.02M1534.24 79.7V85.24M1610.96 120.49V125.29M1669 161.48V169.6M1861.8 207.81V239.19" stroke="#000000" stroke-width="3.4"/>
<path d="M1081.35 52.56h18.5M1081.35 58.1h18.5M1139.39 56.81h18.5M1139.39 58.65h18.5M1216.11 57.18h18.5M1216.11 59.02h18.5M1274.15 56.81h18.5M1274.15 58.65h18.5M1332.19 59.39h18.5M1332.19 61.24h18.5M1408.91 61.79h18.5M1408.91 63.64h18.5M1466.95 69.18h18.5M1466.95 71.02h18.5M1524.99 79.7h18.5M1524.99 85.24h18.5M1601.71 120.49h18.5M1601.71 125.29h18.5M1659.75 161.48h18.5M1659.75 169.6h18.5M1852.55 207.81h18.5M1852.55 239.19h18.5" stroke="#000000" stroke-width="2.3"/>
<polyline points="1090.6,387.61 1148.64,383.37 1225.36,360.84 1283.4,348.11 1341.44,314.14 1418.16,263.38 1476.2,272.79 1534.24,311.37 1610.96,313.96 1669,319.86 1861.8,371.18" stroke="#800080" stroke-width="3.47" stroke-linejoin="round" stroke-linecap="square"/>
<g fill="#800080"><ellipse cx="1090.6" cy="387.61" rx="4.7" ry="4.5"/><ellipse cx="1148.64" cy="383.37" rx="4.7" ry="4.5"/><ellipse cx="1225.36" cy="360.84" rx="4.7" ry="4.5"/><ellipse cx="1283.4" cy="348.11" rx="4.7" ry="4.5"/><ellipse cx="1341.44" cy="314.14" rx="4.7" ry="4.5"/><ellipse cx="1418.16" cy="263.38" rx="4.7" ry="4.5"/><ellipse cx="1476.2" cy="272.79" rx="4.7" ry="4.5"/><ellipse cx="1534.24" cy="311.37" rx="4.7" ry="4.5"/><ellipse cx="1610.96" cy="313.96" rx="4.7" ry="4.5"/><ellipse cx="1669" cy="319.86" rx="4.7" ry="4.5"/><ellipse cx="1861.8" cy="371.18" rx="4.7" ry="4.5"/></g>
<polyline points="1090.6,337.4 1148.64,334.63 1225.36,329.65 1283.4,299.74 1341.44,296.79 1418.16,286.27 1476.2,304.73 1534.24,328.17 1610.96,358.63 1669,374.87 1861.8,425.09" stroke="#800080" stroke-width="3.47" stroke-linejoin="round" stroke-dasharray="12.5 5.4"/>
<g fill="#800080"><ellipse cx="1090.6" cy="337.4" rx="4.7" ry="4.5"/><ellipse cx="1148.64" cy="334.63" rx="4.7" ry="4.5"/><ellipse cx="1225.36" cy="329.65" rx="4.7" ry="4.5"/><ellipse cx="1283.4" cy="299.74" rx="4.7" ry="4.5"/><ellipse cx="1341.44" cy="296.79" rx="4.7" ry="4.5"/><ellipse cx="1418.16" cy="286.27" rx="4.7" ry="4.5"/><ellipse cx="1476.2" cy="304.73" rx="4.7" ry="4.5"/><ellipse cx="1534.24" cy="328.17" rx="4.7" ry="4.5"/><ellipse cx="1610.96" cy="358.63" rx="4.7" ry="4.5"/><ellipse cx="1669" cy="374.87" rx="4.7" ry="4.5"/><ellipse cx="1861.8" cy="425.09" rx="4.7" ry="4.5"/></g>
<polyline points="1090.6,396.1 1148.64,383.37 1225.36,351.8 1283.4,342.01 1341.44,284.6 1418.16,249.9 1476.2,264.3 1534.24,288.48 1610.96,320.6 1669,293.1 1861.8,318.94" stroke="#ff8c00" stroke-width="3.47" stroke-linejoin="round" stroke-linecap="square"/>
<g fill="#ff8c00"><ellipse cx="1090.6" cy="396.1" rx="4.7" ry="4.5"/><ellipse cx="1148.64" cy="383.37" rx="4.7" ry="4.5"/><ellipse cx="1225.36" cy="351.8" rx="4.7" ry="4.5"/><ellipse cx="1283.4" cy="342.01" rx="4.7" ry="4.5"/><ellipse cx="1341.44" cy="284.6" rx="4.7" ry="4.5"/><ellipse cx="1418.16" cy="249.9" rx="4.7" ry="4.5"/><ellipse cx="1476.2" cy="264.3" rx="4.7" ry="4.5"/><ellipse cx="1534.24" cy="288.48" rx="4.7" ry="4.5"/><ellipse cx="1610.96" cy="320.6" rx="4.7" ry="4.5"/><ellipse cx="1669" cy="293.1" rx="4.7" ry="4.5"/><ellipse cx="1861.8" cy="318.94" rx="4.7" ry="4.5"/></g>
<polyline points="1090.6,347.37 1148.64,316.17 1225.36,315.25 1283.4,316.17 1341.44,276.11 1418.16,279.44 1476.2,288.85 1534.24,307.31 1610.96,388.16 1669,344.41 1861.8,352.17" stroke="#ff8c00" stroke-width="3.47" stroke-linejoin="round" stroke-dasharray="12.5 5.4"/>
<g fill="#ff8c00"><ellipse cx="1090.6" cy="347.37" rx="4.7" ry="4.5"/><ellipse cx="1148.64" cy="316.17" rx="4.7" ry="4.5"/><ellipse cx="1225.36" cy="315.25" rx="4.7" ry="4.5"/><ellipse cx="1283.4" cy="316.17" rx="4.7" ry="4.5"/><ellipse cx="1341.44" cy="276.11" rx="4.7" ry="4.5"/><ellipse cx="1418.16" cy="279.44" rx="4.7" ry="4.5"/><ellipse cx="1476.2" cy="288.85" rx="4.7" ry="4.5"/><ellipse cx="1534.24" cy="307.31" rx="4.7" ry="4.5"/><ellipse cx="1610.96" cy="388.16" rx="4.7" ry="4.5"/><ellipse cx="1669" cy="344.41" rx="4.7" ry="4.5"/><ellipse cx="1861.8" cy="352.17" rx="4.7" ry="4.5"/></g>
<polyline points="1090.6,422.69 1148.64,405.89 1225.36,394.63 1283.4,318.57 1341.44,267.81 1418.16,272.79 1476.2,267.81 1534.24,310.82 1610.96,322.63 1669,342.94 1861.8,383.18" stroke="#ff0000" stroke-width="3.47" stroke-linejoin="round" stroke-linecap="square"/>
<g fill="#ff0000"><ellipse cx="1090.6" cy="422.69" rx="4.7" ry="4.5"/><ellipse cx="1148.64" cy="405.89" rx="4.7" ry="4.5"/><ellipse cx="1225.36" cy="394.63" rx="4.7" ry="4.5"/><ellipse cx="1283.4" cy="318.57" rx="4.7" ry="4.5"/><ellipse cx="1341.44" cy="267.81" rx="4.7" ry="4.5"/><ellipse cx="1418.16" cy="272.79" rx="4.7" ry="4.5"/><ellipse cx="1476.2" cy="267.81" rx="4.7" ry="4.5"/><ellipse cx="1534.24" cy="310.82" rx="4.7" ry="4.5"/><ellipse cx="1610.96" cy="322.63" rx="4.7" ry="4.5"/><ellipse cx="1669" cy="342.94" rx="4.7" ry="4.5"/><ellipse cx="1861.8" cy="383.18" rx="4.7" ry="4.5"/></g>
<polyline points="1090.6,369.52 1148.64,370.63 1225.36,324.66 1283.4,317.83 1341.44,302.33 1418.16,284.6 1476.2,303.62 1534.24,318.2 1610.96,335.92 1669,368.97 1861.8,347" stroke="#ff0000" stroke-width="3.47" stroke-linejoin="round" stroke-dasharray="12.5 5.4"/>
<g fill="#ff0000"><ellipse cx="1090.6" cy="369.52" rx="4.7" ry="4.5"/><ellipse cx="1148.64" cy="370.63" rx="4.7" ry="4.5"/><ellipse cx="1225.36" cy="324.66" rx="4.7" ry="4.5"/><ellipse cx="1283.4" cy="317.83" rx="4.7" ry="4.5"/><ellipse cx="1341.44" cy="302.33" rx="4.7" ry="4.5"/><ellipse cx="1418.16" cy="284.6" rx="4.7" ry="4.5"/><ellipse cx="1476.2" cy="303.62" rx="4.7" ry="4.5"/><ellipse cx="1534.24" cy="318.2" rx="4.7" ry="4.5"/><ellipse cx="1610.96" cy="335.92" rx="4.7" ry="4.5"/><ellipse cx="1669" cy="368.97" rx="4.7" ry="4.5"/><ellipse cx="1861.8" cy="347" rx="4.7" ry="4.5"/></g>
<polyline points="1090.6,451.67 1148.64,447.05 1225.36,455.17 1283.4,353.83 1341.44,296.79 1418.16,197.1 1476.2,158.52 1534.24,172.92 1610.96,213.72 1669,239.01 1861.8,300.3" stroke="#008000" stroke-width="3.47" stroke-linejoin="round" stroke-linecap="square"/>
<g fill="#008000"><ellipse cx="1090.6" cy="451.67" rx="4.7" ry="4.5"/><ellipse cx="1148.64" cy="447.05" rx="4.7" ry="4.5"/><ellipse cx="1225.36" cy="455.17" rx="4.7" ry="4.5"/><ellipse cx="1283.4" cy="353.83" rx="4.7" ry="4.5"/><ellipse cx="1341.44" cy="296.79" rx="4.7" ry="4.5"/><ellipse cx="1418.16" cy="197.1" rx="4.7" ry="4.5"/><ellipse cx="1476.2" cy="158.52" rx="4.7" ry="4.5"/><ellipse cx="1534.24" cy="172.92" rx="4.7" ry="4.5"/><ellipse cx="1610.96" cy="213.72" rx="4.7" ry="4.5"/><ellipse cx="1669" cy="239.01" rx="4.7" ry="4.5"/><ellipse cx="1861.8" cy="300.3" rx="4.7" ry="4.5"/></g>
<polyline points="1090.6,245.65 1148.64,238.27 1225.36,231.25 1283.4,227.19 1341.44,217.23 1418.16,225.72 1476.2,209.84 1534.24,226.46 1610.96,267.81 1669,286.27 1861.8,263.93" stroke="#008000" stroke-width="3.47" stroke-linejoin="round" stroke-dasharray="12.5 5.4"/>
<g fill="#008000"><ellipse cx="1090.6" cy="245.65" rx="4.7" ry="4.5"/><ellipse cx="1148.64" cy="238.27" rx="4.7" ry="4.5"/><ellipse cx="1225.36" cy="231.25" rx="4.7" ry="4.5"/><ellipse cx="1283.4" cy="227.19" rx="4.7" ry="4.5"/><ellipse cx="1341.44" cy="217.23" rx="4.7" ry="4.5"/><ellipse cx="1418.16" cy="225.72" rx="4.7" ry="4.5"/><ellipse cx="1476.2" cy="209.84" rx="4.7" ry="4.5"/><ellipse cx="1534.24" cy="226.46" rx="4.7" ry="4.5"/><ellipse cx="1610.96" cy="267.81" rx="4.7" ry="4.5"/><ellipse cx="1669" cy="286.27" rx="4.7" ry="4.5"/><ellipse cx="1861.8" cy="263.93" rx="4.7" ry="4.5"/></g>
<polyline points="1090.6,151.14 1148.64,149.48 1225.36,149.48 1283.4,146.71 1341.44,145.42 1418.16,147.08 1476.2,157.78 1534.24,173.66 1610.96,216.12 1669,247.68 1861.8,314.51" stroke="#0000ff" stroke-width="3.47" stroke-linejoin="round" stroke-linecap="square"/>
<g fill="#0000ff"><ellipse cx="1090.6" cy="151.14" rx="4.7" ry="4.5"/><ellipse cx="1148.64" cy="149.48" rx="4.7" ry="4.5"/><ellipse cx="1225.36" cy="149.48" rx="4.7" ry="4.5"/><ellipse cx="1283.4" cy="146.71" rx="4.7" ry="4.5"/><ellipse cx="1341.44" cy="145.42" rx="4.7" ry="4.5"/><ellipse cx="1418.16" cy="147.08" rx="4.7" ry="4.5"/><ellipse cx="1476.2" cy="157.78" rx="4.7" ry="4.5"/><ellipse cx="1534.24" cy="173.66" rx="4.7" ry="4.5"/><ellipse cx="1610.96" cy="216.12" rx="4.7" ry="4.5"/><ellipse cx="1669" cy="247.68" rx="4.7" ry="4.5"/><ellipse cx="1861.8" cy="314.51" rx="4.7" ry="4.5"/></g>
<polyline points="1090.6,150.95 1148.64,153.54 1225.36,155.2 1283.4,161.11 1341.44,157.78 1418.16,170.34 1476.2,179.57 1534.24,205.04 1610.96,253.04 1669,280.91 1861.8,323.74" stroke="#0000ff" stroke-width="3.47" stroke-linejoin="round" stroke-dasharray="12.5 5.4"/>
<g fill="#0000ff"><ellipse cx="1090.6" cy="150.95" rx="4.7" ry="4.5"/><ellipse cx="1148.64" cy="153.54" rx="4.7" ry="4.5"/><ellipse cx="1225.36" cy="155.2" rx="4.7" ry="4.5"/><ellipse cx="1283.4" cy="161.11" rx="4.7" ry="4.5"/><ellipse cx="1341.44" cy="157.78" rx="4.7" ry="4.5"/><ellipse cx="1418.16" cy="170.34" rx="4.7" ry="4.5"/><ellipse cx="1476.2" cy="179.57" rx="4.7" ry="4.5"/><ellipse cx="1534.24" cy="205.04" rx="4.7" ry="4.5"/><ellipse cx="1610.96" cy="253.04" rx="4.7" ry="4.5"/><ellipse cx="1669" cy="280.91" rx="4.7" ry="4.5"/><ellipse cx="1861.8" cy="323.74" rx="4.7" ry="4.5"/></g>
<polyline points="1090.6,36.13 1148.64,33.55 1225.36,33.55 1283.4,34.1 1341.44,37.24 1418.16,37.42 1476.2,42.22 1534.24,47.95 1610.96,71.39 1669,104.07 1861.8,210.95" stroke="#000000" stroke-width="3.47" stroke-linejoin="round" stroke-linecap="square"/>
<g fill="#000000"><ellipse cx="1090.6" cy="36.13" rx="4.7" ry="4.5"/><ellipse cx="1148.64" cy="33.55" rx="4.7" ry="4.5"/><ellipse cx="1225.36" cy="33.55" rx="4.7" ry="4.5"/><ellipse cx="1283.4" cy="34.1" rx="4.7" ry="4.5"/><ellipse cx="1341.44" cy="37.24" rx="4.7" ry="4.5"/><ellipse cx="1418.16" cy="37.42" rx="4.7" ry="4.5"/><ellipse cx="1476.2" cy="42.22" rx="4.7" ry="4.5"/><ellipse cx="1534.24" cy="47.95" rx="4.7" ry="4.5"/><ellipse cx="1610.96" cy="71.39" rx="4.7" ry="4.5"/><ellipse cx="1669" cy="104.07" rx="4.7" ry="4.5"/><ellipse cx="1861.8" cy="210.95" rx="4.7" ry="4.5"/></g>
<polyline points="1090.6,55.33 1148.64,57.73 1225.36,58.1 1283.4,57.73 1341.44,60.32 1418.16,62.72 1476.2,70.1 1534.24,82.47 1610.96,122.89 1669,165.54 1861.8,223.5" stroke="#000000" stroke-width="3.47" stroke-linejoin="round" stroke-dasharray="12.5 5.4"/>
<g fill="#000000"><ellipse cx="1090.6" cy="55.33" rx="4.7" ry="4.5"/><ellipse cx="1148.64" cy="57.73" rx="4.7" ry="4.5"/><ellipse cx="1225.36" cy="58.1" rx="4.7" ry="4.5"/><ellipse cx="1283.4" cy="57.73" rx="4.7" ry="4.5"/><ellipse cx="1341.44" cy="60.32" rx="4.7" ry="4.5"/><ellipse cx="1418.16" cy="62.72" rx="4.7" ry="4.5"/><ellipse cx="1476.2" cy="70.1" rx="4.7" ry="4.5"/><ellipse cx="1534.24" cy="82.47" rx="4.7" ry="4.5"/><ellipse cx="1610.96" cy="122.89" rx="4.7" ry="4.5"/><ellipse cx="1669" cy="165.54" rx="4.7" ry="4.5"/><ellipse cx="1861.8" cy="223.5" rx="4.7" ry="4.5"/></g>
</g>
<path d="M1060.73 521.1v5.1M1071.92 521.1v5.1M1081.78 521.1v5.1M1148.64 521.1v5.1M1182.59 521.1v5.1M1206.68 521.1v5.1M1225.36 521.1v5.1M1240.63 521.1v5.1M1253.53 521.1v5.1M1264.72 521.1v5.1M1274.58 521.1v5.1M1341.44 521.1v5.1M1375.39 521.1v5.1M1399.48 521.1v5.1M1418.16 521.1v5.1M1433.43 521.1v5.1M1446.33 521.1v5.1M1457.52 521.1v5.1M1467.38 521.1v5.1M1534.24 521.1v5.1M1568.19 521.1v5.1M1592.28 521.1v5.1M1610.96 521.1v5.1M1626.23 521.1v5.1M1639.13 521.1v5.1M1650.32 521.1v5.1M1660.18 521.1v5.1M1727.04 521.1v5.1M1760.99 521.1v5.1M1785.08 521.1v5.1M1803.76 521.1v5.1M1819.03 521.1v5.1M1831.93 521.1v5.1M1843.12 521.1v5.1M1852.98 521.1v5.1" stroke="#000" stroke-width="1.6" fill="none"/>
<path d="M1090.6 521.1v7.9M1283.4 521.1v7.9M1476.2 521.1v7.9M1669 521.1v7.9M1861.8 521.1v7.9M1052.1 429.7h-8.1M1052.1 337.4h-8.1M1052.1 245.1h-8.1M1052.1 152.8h-8.1M1052.1 60.5h-8.1" stroke="#000" stroke-width="2.0" fill="none"/>
<rect x="1052.1" y="8.15" width="848.3" height="512.95" fill="none" stroke="#000" stroke-width="2.0"/>
<text transform="translate(1036.7,438.55) scale(1.0120,1)" text-anchor="end" font-size="22.4px">−40</text>
<text transform="translate(1036.7,346.25) scale(1.0120,1)" text-anchor="end" font-size="22.4px">−35</text>
<text transform="translate(1036.7,253.95) scale(1.0120,1)" text-anchor="end" font-size="22.4px">−30</text>
<text transform="translate(1036.7,161.65) scale(1.0120,1)" text-anchor="end" font-size="22.4px">−25</text>
<text transform="translate(1036.7,69.35) scale(1.0120,1)" text-anchor="end" font-size="22.4px">−20</text>
<text transform="translate(1089.7,554.6) scale(1.0300,1)" font-size="22.4px"><tspan x="-25.56">10</tspan><tspan x="2.44" dy="-8.4" font-size="15.68px">−3</tspan></text>
<text transform="translate(1282.5,554.6) scale(1.0300,1)" font-size="22.4px"><tspan x="-25.56">10</tspan><tspan x="2.44" dy="-8.4" font-size="15.68px">−2</tspan></text>
<text transform="translate(1475.3,554.6) scale(1.0300,1)" font-size="22.4px"><tspan x="-25.56">10</tspan><tspan x="2.44" dy="-8.4" font-size="15.68px">−1</tspan></text>
<text transform="translate(1668.1,554.6) scale(1.0300,1)" font-size="22.4px"><tspan x="-18.99">10</tspan><tspan x="9.01" dy="-8.4" font-size="15.68px">0</tspan></text>
<text transform="translate(1860.9,554.6) scale(1.0300,1)" font-size="22.4px"><tspan x="-18.99">10</tspan><tspan x="9.01" dy="-8.4" font-size="15.68px">1</tspan></text>
<g stroke="#800080" fill="none">
<path d="M131.75 24.32V44.88" stroke-width="3.4"/>
<path d="M122.5 24.32h18.5M122.5 44.88h18.5" stroke-width="2.3"/>
<path d="M111.3 34.6H152.2" stroke-width="3.47" stroke-linecap="square"/>
</g>
<ellipse cx="131.75" cy="34.6" rx="4.7" ry="4.5" fill="#800080"/>
<text transform="translate(168.6,41.3) scale(0.9990,1)" font-size="20.25px">PACMOF + UFF</text>
<g stroke="#800080" fill="none">
<path d="M131.75 54.13V74.69" stroke-width="3.4"/>
<path d="M122.5 54.13h18.5M122.5 74.69h18.5" stroke-width="2.3"/>
<path d="M111.3 64.41H152.2" stroke-width="3.47" stroke-dasharray="12.5 5.4"/>
</g>
<ellipse cx="131.75" cy="64.41" rx="4.7" ry="4.5" fill="#800080"/>
<text transform="translate(168.6,71.11) scale(0.9990,1)" font-size="20.25px">PACMOF + DREIDING</text>
<g stroke="#ff8c00" fill="none">
<path d="M131.75 83.94V104.5" stroke-width="3.4"/>
<path d="M122.5 83.94h18.5M122.5 104.5h18.5" stroke-width="2.3"/>
<path d="M111.3 94.22H152.2" stroke-width="3.47" stroke-linecap="square"/>
</g>
<ellipse cx="131.75" cy="94.22" rx="4.7" ry="4.5" fill="#ff8c00"/>
<text transform="translate(168.6,100.92) scale(0.9990,1)" font-size="20.25px">MPNN + UFF</text>
<g stroke="#ff8c00" fill="none">
<path d="M131.75 113.75V134.31" stroke-width="3.4"/>
<path d="M122.5 113.75h18.5M122.5 134.31h18.5" stroke-width="2.3"/>
<path d="M111.3 124.03H152.2" stroke-width="3.47" stroke-dasharray="12.5 5.4"/>
</g>
<ellipse cx="131.75" cy="124.03" rx="4.7" ry="4.5" fill="#ff8c00"/>
<text transform="translate(168.6,130.73) scale(0.9990,1)" font-size="20.25px">MPNN + DREIDING</text>
<g stroke="#ff0000" fill="none">
<path d="M131.75 143.56V164.12" stroke-width="3.4"/>
<path d="M122.5 143.56h18.5M122.5 164.12h18.5" stroke-width="2.3"/>
<path d="M111.3 153.84H152.2" stroke-width="3.47" stroke-linecap="square"/>
</g>
<ellipse cx="131.75" cy="153.84" rx="4.7" ry="4.5" fill="#ff0000"/>
<text transform="translate(168.6,160.54) scale(0.9990,1)" font-size="20.25px">DDEC + UFF</text>
<g stroke="#ff0000" fill="none">
<path d="M131.75 173.37V193.93" stroke-width="3.4"/>
<path d="M122.5 173.37h18.5M122.5 193.93h18.5" stroke-width="2.3"/>
<path d="M111.3 183.65H152.2" stroke-width="3.47" stroke-dasharray="12.5 5.4"/>
</g>
<ellipse cx="131.75" cy="183.65" rx="4.7" ry="4.5" fill="#ff0000"/>
<text transform="translate(168.6,190.35) scale(0.9990,1)" font-size="20.25px">DDEC + DREIDING</text>
<g stroke="#008000" fill="none">
<path d="M131.75 203.18V223.74" stroke-width="3.4"/>
<path d="M122.5 203.18h18.5M122.5 223.74h18.5" stroke-width="2.3"/>
<path d="M111.3 213.46H152.2" stroke-width="3.47" stroke-linecap="square"/>
</g>
<ellipse cx="131.75" cy="213.46" rx="4.7" ry="4.5" fill="#008000"/>
<text transform="translate(168.6,220.16) scale(0.9990,1)" font-size="20.25px">EQeq + UFF</text>
<g stroke="#008000" fill="none">
<path d="M131.75 232.99V253.55" stroke-width="3.4"/>
<path d="M122.5 232.99h18.5M122.5 253.55h18.5" stroke-width="2.3"/>
<path d="M111.3 243.27H152.2" stroke-width="3.47" stroke-dasharray="12.5 5.4"/>
</g>
<ellipse cx="131.75" cy="243.27" rx="4.7" ry="4.5" fill="#008000"/>
<text transform="translate(168.6,249.97) scale(0.9990,1)" font-size="20.25px">EQeq + DREIDING</text>
<g stroke="#0000ff" fill="none">
<path d="M131.75 262.8V283.36" stroke-width="3.4"/>
<path d="M122.5 262.8h18.5M122.5 283.36h18.5" stroke-width="2.3"/>
<path d="M111.3 273.08H152.2" stroke-width="3.47" stroke-linecap="square"/>
</g>
<ellipse cx="131.75" cy="273.08" rx="4.7" ry="4.5" fill="#0000ff"/>
<text transform="translate(168.6,279.78) scale(0.9990,1)" font-size="20.25px">Qeq + UFF</text>
<g stroke="#0000ff" fill="none">
<path d="M131.75 292.61V313.17" stroke-width="3.4"/>
<path d="M122.5 292.61h18.5M122.5 313.17h18.5" stroke-width="2.3"/>
<path d="M111.3 302.89H152.2" stroke-width="3.47" stroke-dasharray="12.5 5.4"/>
</g>
<ellipse cx="131.75" cy="302.89" rx="4.7" ry="4.5" fill="#0000ff"/>
<text transform="translate(168.6,309.59) scale(0.9990,1)" font-size="20.25px">Qeq + DREIDING</text>
<g stroke="#000000" fill="none">
<path d="M131.75 322.42V342.98" stroke-width="3.4"/>
<path d="M122.5 322.42h18.5M122.5 342.98h18.5" stroke-width="2.3"/>
<path d="M111.3 332.7H152.2" stroke-width="3.47" stroke-linecap="square"/>
</g>
<ellipse cx="131.75" cy="332.7" rx="4.7" ry="4.5" fill="#000000"/>
<text transform="translate(168.6,339.4) scale(0.9990,1)" font-size="20.25px">NEUTRAL + UFF</text>
<g stroke="#000000" fill="none">
<path d="M131.75 352.23V372.79" stroke-width="3.4"/>
<path d="M122.5 352.23h18.5M122.5 372.79h18.5" stroke-width="2.3"/>
<path d="M111.3 362.51H152.2" stroke-width="3.47" stroke-dasharray="12.5 5.4"/>
</g>
<ellipse cx="131.75" cy="362.51" rx="4.7" ry="4.5" fill="#000000"/>
<text transform="translate(168.6,369.21) scale(0.9990,1)" font-size="20.25px">NEUTRAL + DREIDING</text>
<text transform="translate(506.8,591) scale(1.0420,1)" text-anchor="middle" font-weight="bold" stroke-width="0.1" font-size="26.1px">Pressure (bar)</text>
<text transform="translate(1476.2,591) scale(1.0420,1)" text-anchor="middle" font-weight="bold" stroke-width="0.1" font-size="26.1px">Pressure (bar)</text>
<text transform="translate(973.9,264.5) rotate(-90) scale(1.0395,1)" text-anchor="middle" font-weight="bold" stroke-width="0.1" font-size="26.1px">Enthalpy of adsorption (kJ/mol)</text>
<text transform="translate(20.9,265.7) rotate(-90) scale(1.0440,1)" text-anchor="middle" font-weight="bold" stroke-width="0.1" font-size="26.1px">CO<tspan font-weight="normal" font-size="19.84px" dy="4.6">2</tspan><tspan dy="-4.6"> uptake (mol/kg)</tspan></text>
</svg></body></html>
